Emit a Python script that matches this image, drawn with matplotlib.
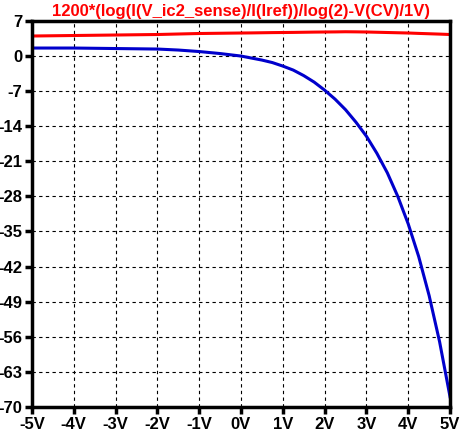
import matplotlib
matplotlib.use("Agg")
import matplotlib.pyplot as plt

# values
x_v = [-5, -4, -3, -2, -1.5, -1, -0.5, 0, 0.25, 0.5, 0.75, 1, 1.25, 1.5, 1.75, 2, 2.25, 2.5, 2.75,
       3, 3.25, 3.5, 3.75, 4, 4.25, 4.5, 4.75, 5]
blue = [1.6, 1.6, 1.5, 1.4, 1.2, 0.9, 0.5, 0.0, -0.4, -0.8, -1.3, -2.0, -2.8, -3.9, -5.2, -6.8,
        -8.6, -10.7, -13.2, -16.0, -19.4, -23.3, -28.0, -33.5, -40.0, -47.8, -57.0, -68.0]
red = [4.0, 4.1, 4.2, 4.3, 4.4, 4.5, 4.55, 4.6, 4.62, 4.65, 4.68, 4.7, 4.72, 4.75, 4.78, 4.8,
       4.82, 4.85, 4.83, 4.8, 4.75, 4.7, 4.65, 4.6, 4.52, 4.45, 4.38, 4.3]

x_ticks = list(range(-5, 6))
x_labels = [f"{t}V" for t in x_ticks]
y_ticks = list(range(7, -71, -7))

plt.rcParams["font.family"] = ["Liberation Sans", "DejaVu Sans"]
fig = plt.figure(figsize=(4.63, 4.37), dpi=100)
ax = fig.add_axes([0.069, 0.069, 0.903, 0.883])
ax.plot(x_v, red, color="#ff0000", linewidth=2.2)
ax.plot(x_v, blue, color="#0000cc", linewidth=2.2)
ax.set_xlim(-5, 5)
ax.set_ylim(-70, 7)
ax.set_xticks(x_ticks)
ax.set_xticklabels(x_labels, fontweight="bold", fontsize=12)
ax.set_yticks(y_ticks)
ax.set_yticklabels([str(t) for t in y_ticks], fontweight="bold", fontsize=12)
ax.grid(True, color="black", linestyle=(0, (3, 3)), linewidth=0.8)
for s in ax.spines.values():
    s.set_linewidth(2.5)
ax.tick_params(width=2.5, length=5, direction="out", pad=2)
fig.text(0.52, 0.99, "1200*(log(I(V_ic2_sense)/I(Iref))/log(2)-V(CV)/1V)",
         color="#ff0000", fontweight="bold", fontsize=12, ha="center", va="top")
fig.savefig("out.png", dpi=100)
